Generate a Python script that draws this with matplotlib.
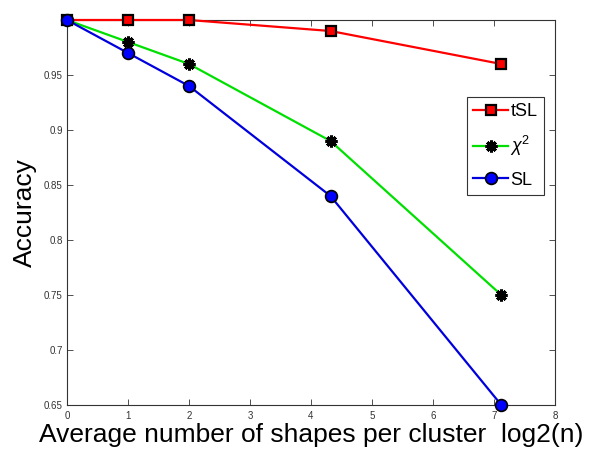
import matplotlib
matplotlib.use("Agg")
import matplotlib.pyplot as plt

x = [0, 1, 2, 4.32, 7.12]
tsl = [1.0, 1.0, 1.0, 0.99, 0.96]
chi2 = [1.0, 0.98, 0.96, 0.89, 0.75]
sl = [1.0, 0.97, 0.94, 0.84, 0.65]
xticks = [0, 1, 2, 3, 4, 5, 6, 7, 8]
yticks = [0.65, 0.7, 0.75, 0.8, 0.85, 0.9, 0.95, 1.0]
ytick_labels = ["0.65", "0.7", "0.75", "0.8", "0.85", "0.9", "0.95", ""]

plt.rcParams['font.family'] = ['Liberation Sans', 'DejaVu Sans']
plt.rcParams['mathtext.fontset'] = 'custom'
plt.rcParams['mathtext.it'] = 'Liberation Sans:italic'
plt.rcParams['mathtext.rm'] = 'Liberation Sans'

fig = plt.figure(figsize=(6.02, 4.61), dpi=100)
ax = fig.add_axes([67/602, 1 - 405/461, (555-67)/602, (405-20)/461])

ax.plot(x, tsl, color='#ff0000', lw=1.6, marker='s', ms=7, mfc='#ff0000',
        mec='black', mew=1.6, label='tSL', clip_on=False, zorder=3)
ax.plot(x, chi2, color='#00e000', lw=1.6, marker=(8, 2, 0), ms=8.5, mfc='black',
        mec='black', mew=2.2, label=r'$\chi^2$', clip_on=False, zorder=3)
ax.plot(x, sl, color='#0000dd', lw=1.6, marker='o', ms=8.5, mfc='#0000ff',
        mec='black', mew=1.2, label='SL', clip_on=False, zorder=3)

ax.set_xlim(0, 8)
ax.set_ylim(0.65, 1.0)
ax.set_xticks(xticks)
ax.set_yticks(yticks)
ax.set_yticklabels(ytick_labels)
ax.tick_params(direction='in', top=True, right=True, labelsize=7, length=4,
               width=0.6, colors='#333333', pad=3)
ax.tick_params(axis='x', pad=4)
for s in ax.spines.values():
    s.set_linewidth(0.8)
    s.set_color('#333333')

ax.set_xlabel('Average number of shapes per cluster  log2(n)', fontsize=19, labelpad=1.5)
ax.set_ylabel('Accuracy', fontsize=19, labelpad=5)

leg = ax.legend(loc='upper left', bbox_to_anchor=(0.82, 0.80), borderaxespad=0,
                fancybox=False, edgecolor='#333333', framealpha=1, fontsize=13,
                handlelength=1.9, handletextpad=0.15, borderpad=0.35, labelspacing=0.75)
leg.get_frame().set_linewidth(0.8)

fig.savefig('out.png', dpi=100)
